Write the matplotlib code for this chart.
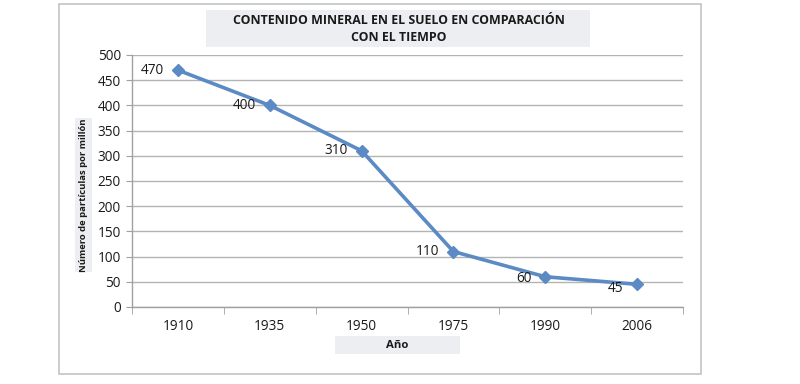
import matplotlib
matplotlib.use("Agg")
import matplotlib.pyplot as plt
from matplotlib.patches import Rectangle
import numpy as np

plt.rcParams['font.family'] = ['Open Sans', 'DejaVu Sans']

years = ["1910", "1935", "1950", "1975", "1990", "2006"]
values = [470, 400, 310, 110, 60, 45]
title = "CONTENIDO MINERAL EN EL SUELO EN COMPARACIÓN\nCON EL TIEMPO"
xlabel = "Año"
ylabel = "Número de partículas por millón"

W, H = 800, 384
fig = plt.figure(figsize=(W / 100, H / 100), dpi=100)

def fx(px):
    return px / W

def fy(py):
    return 1 - py / H

# outer frame
fig.patches.append(Rectangle((fx(59), fy(374)), fx(701) - fx(59), fy(4) - fy(374),
                             transform=fig.transFigure, fill=False,
                             edgecolor="#c4c4c4", lw=1.2, zorder=0))
# title box
fig.patches.append(Rectangle((fx(206), fy(47)), fx(590) - fx(206), fy(10) - fy(47),
                             transform=fig.transFigure, facecolor="#eceef1",
                             edgecolor="none", zorder=0))
# x label box
fig.patches.append(Rectangle((fx(335), fy(354)), fx(460) - fx(335), fy(336) - fy(354),
                             transform=fig.transFigure, facecolor="#eceef1",
                             edgecolor="none", zorder=0))
# y label box
fig.patches.append(Rectangle((fx(75), fy(272)), fx(92) - fx(75), fy(118) - fy(272),
                             transform=fig.transFigure, facecolor="#eceef1",
                             edgecolor="none", zorder=0))

fig.text(fx(399), fy(29), title, ha="center", va="center", fontsize=8.9,
         fontweight="bold", color="#1a1a1a", linespacing=1.35)
fig.text(fx(397.5), fy(345), xlabel, ha="center", va="center", fontsize=8.2,
         fontweight="bold", color="#1a1a1a")
fig.text(fx(84), fy(195), ylabel, ha="center", va="center", fontsize=6.8,
         fontweight="bold", color="#1a1a1a", rotation=90)

ax = fig.add_axes([fx(132), fy(307), fx(683) - fx(132), fy(55) - fy(307)])
ax.set_facecolor("none")
x = np.arange(len(years))
ax.plot(x, values, color="#5b8ac4", lw=2.6, marker="D", markersize=6,
        markerfacecolor="#5b8ac4", markeredgecolor="#5b8ac4", zorder=3)

offsets_y = [0, 0, 0, 0, -1, -3]
for xi, v, dy in zip(x, values, offsets_y):
    ax.annotate(str(v), (xi, v), xytext=(-10, dy), textcoords="offset points",
                ha="right", va="center", fontsize=9.8, color="#1a1a1a")

ax.set_xlim(-0.5, len(years) - 0.5)
ax.set_ylim(0, 500)
ax.set_yticks(np.arange(0, 501, 50))
ax.set_xticks(x)
ax.set_xticklabels(years)
ax.set_xticks(np.arange(-0.5, len(years)), minor=True)
ax.tick_params(axis="x", which="major", length=0, pad=9, labelsize=9.8, labelcolor="#1a1a1a")
ax.tick_params(axis="x", which="minor", length=5, color="#a0a0a0", direction="out")
ax.tick_params(axis="y", length=4, color="#a0a0a0", labelsize=9.8, labelcolor="#1a1a1a", pad=4)
ax.yaxis.grid(True, color="#b3b3b3", lw=1)
ax.set_axisbelow(True)
for s in ["top", "right"]:
    ax.spines[s].set_visible(False)
for s in ["left", "bottom"]:
    ax.spines[s].set_color("#a0a0a0")
    ax.spines[s].set_linewidth(1)

fig.savefig("out.png", dpi=100)
